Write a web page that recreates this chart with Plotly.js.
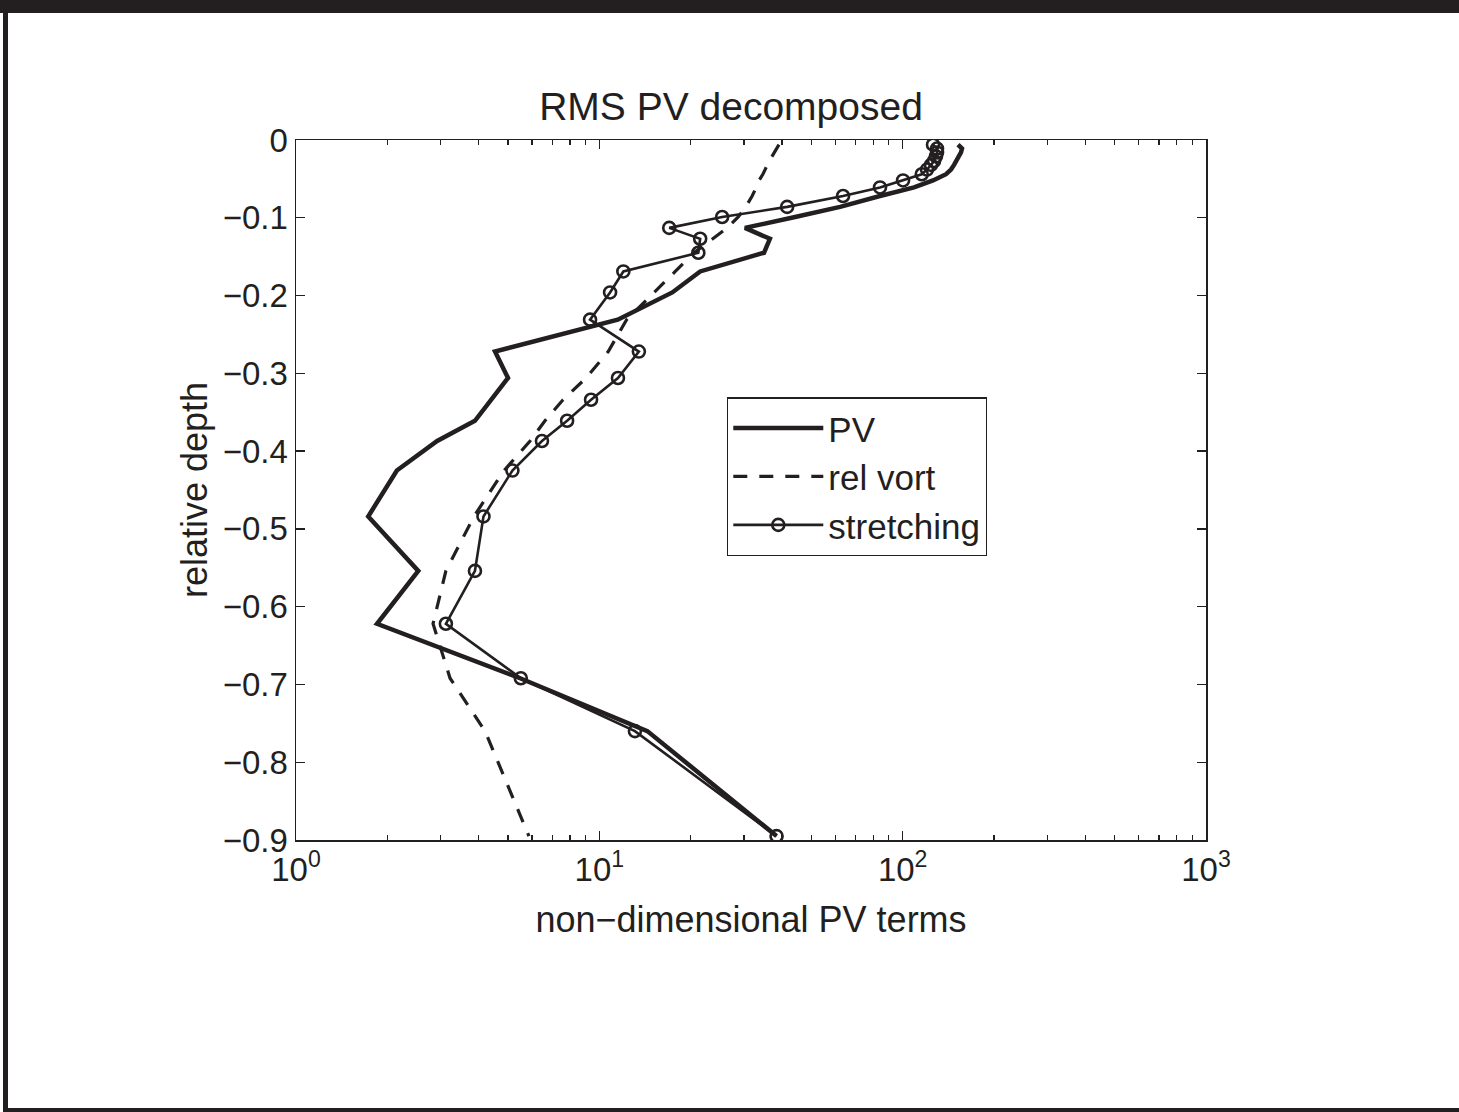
<!DOCTYPE html>
<html><head><meta charset="utf-8">
<script src="https://cdn.plot.ly/plotly-3.0.1.min.js"></script>
<style>
html,body{margin:0;padding:0;background:#fff;}
#wrap{position:relative;width:1459px;height:1112px;overflow:hidden;}
#chart{position:absolute;left:0;top:0;width:1459px;height:1112px;}
.bar{position:absolute;background:#231f20;}
</style></head><body>
<div id="wrap"><div id="chart"></div>
<div class="bar" style="left:0;top:0;width:1459px;height:13px"></div>
<div class="bar" style="left:3px;top:0;width:5px;height:1112px"></div>
<div class="bar" style="left:3px;top:1108px;width:1456px;height:4px"></div>
</div>
<script>
// relative depth levels (shared by all three series)
const depth = [-0.006,-0.011,-0.016,-0.021,-0.027,-0.032,-0.038,-0.044,-0.052,-0.061,-0.072,-0.086,-0.099,-0.113,-0.127,-0.145,-0.169,-0.196,-0.231,-0.272,-0.306,-0.334,-0.361,-0.387,-0.425,-0.484,-0.554,-0.622,-0.692,-0.760,-0.895];
// RMS PV
const pv = [152.2,156.9,155.7,153.4,150.5,147.7,144.3,139.0,125.9,109.0,84.2,62.2,44.2,30.2,36.5,34.9,21.5,17.4,11.5,4.53,5.00,4.39,3.89,2.92,2.15,1.73,2.53,1.85,5.48,14.4,38.4];
// relative vorticity term
const relVort = [39.1,38.5,37.9,37.1,36.3,35.7,35.2,34.6,33.6,32.9,31.9,30.4,28.7,26.4,23.7,20.5,17.8,15.1,12.3,10.7,9.04,7.59,6.62,5.91,4.85,3.86,3.12,2.83,3.22,4.20,5.86];
// stretching term
const stretching = [125.9,129.8,129.8,128.8,126.9,124.0,120.3,115.6,100.3,84.2,63.6,41.6,25.4,17.0,21.5,21.2,12.0,10.85,9.32,13.5,11.52,9.39,7.83,6.47,5.17,4.15,3.89,3.12,5.51,13.1,38.4];

const seriesNames = ['PV','rel vort','stretching'];
const xTickVals = [1,10,100,1000];
const xTickText = ['10<sup>0</sup>','10<sup>1</sup>','10<sup>2</sup>','10<sup>3</sup>'];
const yTickVals = [0,-0.1,-0.2,-0.3,-0.4,-0.5,-0.6,-0.7,-0.8,-0.9];
const yTickText = ['0','\u22120.1','\u22120.2','\u22120.3','\u22120.4','\u22120.5','\u22120.6','\u22120.7','\u22120.8','\u22120.9'];

const minorVals = [];
for (let d = 1; d <= 100; d *= 10) for (let k = 2; k <= 9; k++) minorVals.push(k * d);

const ink = '#231f20';
const FONT = 'Liberation Sans, Arial, Helvetica, sans-serif';

const traces = [
  {x: pv, y: depth, name: seriesNames[0], mode: 'lines', legendgroup: 'a',
   line: {color: ink, width: 4.5}},
  {x: relVort, y: depth, name: seriesNames[1], mode: 'lines', legendgroup: 'b',
   line: {color: ink, width: 3.2, dash: '14px,12px'}},
  {x: stretching, y: depth, name: seriesNames[2], mode: 'lines+markers', legendgroup: 'c',
   line: {color: ink, width: 2.6},
   marker: {symbol: 'circle-open', size: 12, color: ink, line: {width: 2.6, color: ink}}}
];

const axisCommon = {
  showline: true, linecolor: ink, linewidth: 1.5, mirror: 'ticks',
  ticks: 'inside', ticklen: 9, tickwidth: 1.3, tickcolor: ink,
  showgrid: false, zeroline: false,
  tickfont: {family: FONT, size: 33, color: ink}
};

const layout = {
  width: 1459, height: 1112,
  paper_bgcolor: '#fff', plot_bgcolor: '#fff',
  margin: {l: 296, r: 253, t: 140, b: 272, pad: 0},
  font: {family: FONT, color: ink},
  title: {text: 'RMS PV decomposed', x: 731/1459, xref: 'container', xanchor: 'center',
          y: 1 - 106/1112, yref: 'container', yanchor: 'middle',
          font: {family: FONT, size: 39, color: ink}},
  xaxis: Object.assign({}, axisCommon, {
    type: 'log', range: [0, 3],
    tickmode: 'array', tickvals: xTickVals, ticktext: xTickText,
    minor: {tickmode: 'array', tickvals: minorVals, ticks: 'inside', ticklen: 5, tickwidth: 1.2, tickcolor: ink, showgrid: false},
    title: {text: 'non\u2212dimensional PV terms', standoff: 19, font: {family: FONT, size: 36, color: ink}}
  }),
  yaxis: Object.assign({}, axisCommon, {
    range: [-0.9, 0],
    tickmode: 'array', tickvals: yTickVals, ticktext: yTickText,
    title: {text: 'relative depth', standoff: 4, font: {family: FONT, size: 36, color: ink}}
  }),
  showlegend: true,
  legend: {x: (727-296)/910, y: 1 - (397-140)/699, xanchor: 'left', yanchor: 'top',
           bgcolor: '#fff', bordercolor: ink, borderwidth: 1.3,
           font: {family: FONT, size: 35, color: ink},
           traceorder: 'grouped', tracegroupgap: 0, itemwidth: 90}
};

Plotly.newPlot('chart', traces, layout, {displayModeBar: false, staticPlot: true});
</script>
</body></html>
